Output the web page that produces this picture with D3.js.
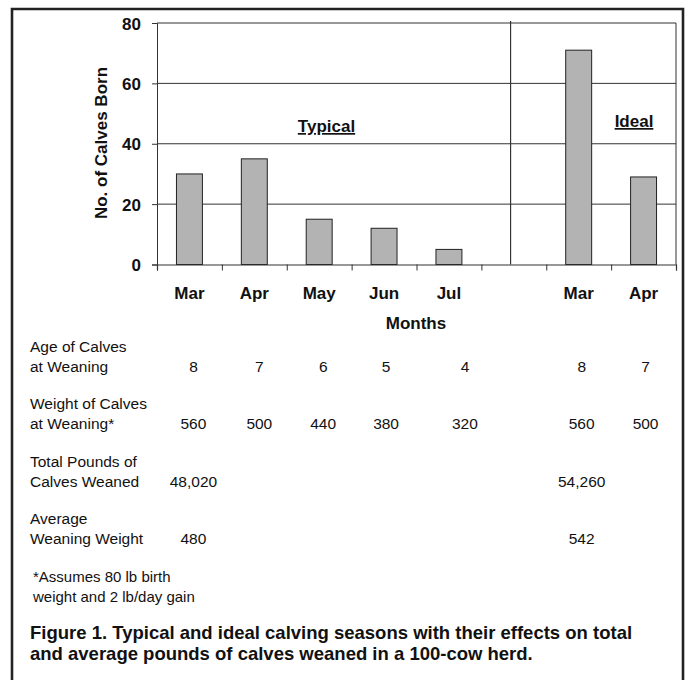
<!DOCTYPE html>
<html>
	<head>
		<title></title>
		<script src='https://cdn.jsdelivr.net/npm/d3@7/dist/d3.min.js'></script>
		<style>
			body { margin: 0; background: #fff; }
			text { font-family: 'Liberation Sans', Arial, sans-serif; fill: #111; }
		</style>
	</head>
	<body>
		<script>
			// chart data
			var months = ['Mar', 'Apr', 'May', 'Jun', 'Jul', '', 'Mar', 'Apr'];
			var calvesBorn = [30, 35, 15, 12, 5, null, 71, 29];
			var yTicks = [0, 20, 40, 60, 80];
			var groupLabels = ['Typical', 'Ideal'];

			// table under the chart
			var rowLabels = [
				['Age of Calves', 'at Weaning'],
				['Weight of Calves', 'at Weaning*'],
				['Total Pounds of', 'Calves Weaned'],
				['Average', 'Weaning Weight']
			];
			var ageAtWeaning = ['8', '7', '6', '5', '4', '', '8', '7'];
			var weightAtWeaning = ['560', '500', '440', '380', '320', '', '560', '500'];
			var totalPounds = ['48,020', '', '', '', '', '', '54,260', ''];
			var averageWeight = ['480', '', '', '', '', '', '542', ''];
			var footnote = ['*Assumes 80 lb birth', 'weight and 2 lb/day gain'];
			var caption = ['Figure 1. Typical and ideal calving seasons with their effects on total',
						   'and average pounds of calves weaned in a 100-cow herd.'];

			var w = 686, h = 680;
			var pLeft = 157, pRight = 676, pTop = 23, pBottom = 264.5;

			var svg = d3.select('body')
						.append('svg')
						.attr('width', w)
						.attr('height', h);

			// outer frame
			svg.append('path')
				.attr('d', 'M12,700 L12,9 L683,9 L683,700')
				.attr('fill', 'none')
				.attr('stroke', '#222')
				.attr('stroke-width', 2.6);

			var idx = d3.range(months.length);
			var x = d3.scaleBand()
						.domain(idx)
						.range([pLeft, pRight])
						.paddingInner(0.6)
						.paddingOuter(0.3);
			var slot = d3.scaleLinear().domain([0, months.length]).range([pLeft, pRight]);
			var y = d3.scaleLinear().domain([0, 80]).range([pBottom, pTop]);

			// gridlines
			svg.append('g')
				.selectAll('line')
				.data(yTicks.slice(1))
				.enter()
				.append('line')
				.attr('x1', pLeft).attr('x2', pRight)
				.attr('y1', function(d) { return y(d); })
				.attr('y2', function(d) { return y(d); })
				.attr('stroke', '#333')
				.attr('stroke-width', 1);

			// right edge and the typical / ideal divider
			svg.append('line')
				.attr('x1', pRight).attr('x2', pRight)
				.attr('y1', pTop).attr('y2', pBottom)
				.attr('stroke', '#333');
			svg.append('line')
				.attr('x1', slot(5.45)).attr('x2', slot(5.45))
				.attr('y1', pTop - 2).attr('y2', pBottom)
				.attr('stroke', '#333')
				.attr('stroke-width', 1.2);

			// bars
			svg.append('g')
				.selectAll('rect')
				.data(idx.filter(function(i) { return calvesBorn[i] != null; }))
				.enter()
				.append('rect')
				.attr('x', function(i) { return x(i); })
				.attr('y', function(i) { return y(calvesBorn[i]); })
				.attr('width', x.bandwidth())
				.attr('height', function(i) { return pBottom - y(calvesBorn[i]); })
				.attr('fill', '#b3b3b3')
				.attr('stroke', '#222')
				.attr('stroke-width', 1);

			// y axis
			var yAxis = svg.append('g')
				.attr('transform', 'translate(' + pLeft + ',0)')
				.call(d3.axisLeft(y).tickValues(yTicks).tickSize(5).tickPadding(11));
			yAxis.select('.domain').attr('stroke', '#333');
			yAxis.selectAll('.tick line').attr('stroke', '#333');
			yAxis.selectAll('text')
				.style('font-size', '17px')
				.style('font-weight', 'bold')
				.attr('dy', '0.36em');

			// x axis, ticks between slots
			var xAxis = svg.append('g')
				.attr('transform', 'translate(0,' + pBottom + ')')
				.call(d3.axisBottom(slot).tickValues(d3.range(months.length + 1)).tickSize(6).tickFormat(''));
			xAxis.select('.domain').attr('stroke', '#333').attr('stroke-width', 1.2);
			xAxis.selectAll('.tick line').attr('stroke', '#333');

			// month labels
			svg.append('g')
				.selectAll('text')
				.data(idx)
				.enter()
				.append('text')
				.attr('x', function(i) { return x(i) + x.bandwidth() / 2; })
				.attr('y', 299)
				.attr('text-anchor', 'middle')
				.style('font-size', '17px')
				.style('font-weight', 'bold')
				.text(function(i) { return months[i]; });

			svg.append('text')
				.attr('x', 416).attr('y', 329)
				.attr('text-anchor', 'middle')
				.style('font-size', '17px')
				.style('font-weight', 'bold')
				.text('Months');

			svg.append('text')
				.attr('transform', 'translate(107,143) rotate(-90)')
				.attr('text-anchor', 'middle')
				.style('font-size', '17px')
				.style('font-weight', 'bold')
				.text('No. of Calves Born');

			// group labels, underlined
			var groupPos = [[326.5, 132], [634, 127]];
			groupLabels.forEach(function(g, i) {
				svg.append('text')
					.attr('x', groupPos[i][0]).attr('y', groupPos[i][1])
					.attr('text-anchor', 'middle')
					.style('font-size', '17px')
					.style('font-weight', 'bold')
					.style('text-decoration', 'underline')
					.text(g);
			});

			// table
			var rowY = [352, 409, 467, 524];
			var rowValues = [ageAtWeaning, weightAtWeaning, totalPounds, averageWeight];
			var colShift = [4, 5, 4, 2, 16, 0, 3, 2];

			rowLabels.forEach(function(lines, r) {
				svg.append('text')
					.attr('x', 30).attr('y', rowY[r])
					.style('font-size', '15.5px')
					.selectAll('tspan')
					.data(lines)
					.enter()
					.append('tspan')
					.attr('x', 30)
					.attr('dy', function(d, k) { return k ? 19.5 : 0; })
					.text(function(d) { return d; });

				svg.append('g')
					.selectAll('text')
					.data(idx)
					.enter()
					.append('text')
					.attr('x', function(i) { return x(i) + x.bandwidth() / 2 + colShift[i]; })
					.attr('y', rowY[r] + 19.5)
					.attr('text-anchor', 'middle')
					.style('font-size', '15.5px')
					.text(function(i) { return rowValues[r][i]; });
			});

			svg.append('text')
				.attr('x', 33).attr('y', 582)
				.style('font-size', '15px')
				.selectAll('tspan')
				.data(footnote)
				.enter()
				.append('tspan')
				.attr('x', 33)
				.attr('dy', function(d, k) { return k ? 19.5 : 0; })
				.text(function(d) { return d; });

			svg.append('text')
				.attr('x', 30).attr('y', 639)
				.style('font-size', '18.5px')
				.style('font-weight', 'bold')
				.selectAll('tspan')
				.data(caption)
				.enter()
				.append('tspan')
				.attr('x', 30)
				.attr('dy', function(d, k) { return k ? 20.5 : 0; })
				.text(function(d) { return d; });
		</script>
	</body>
</html>
